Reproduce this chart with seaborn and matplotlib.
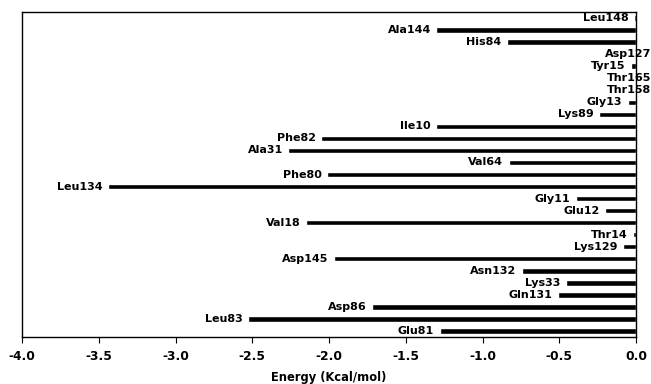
# Per-residue interaction energy, horizontal bars

import numpy as np
import pandas as pd
import matplotlib
matplotlib.use("Agg")
import matplotlib.pyplot as plt
import seaborn as sns

# data (top to bottom)
residues = [
    "Leu148", "Ala144", "His84", "Asp127", "Tyr15", "Thr165", "Thr158",
    "Gly13", "Lys89", "Ile10", "Phe82", "Ala31", "Val64", "Phe80",
    "Leu134", "Gly11", "Glu12", "Val18", "Thr14", "Lys129", "Asp145",
    "Asn132", "Lys33", "Gln131", "Asp86", "Leu83", "Glu81",
]
energy = [
    -0.01, -1.30, -0.84, 0.0, -0.03, 0.0, 0.0,
    -0.055, -0.24, -1.30, -2.05, -2.265, -0.83, -2.01,
    -3.44, -0.39, -0.20, -2.15, -0.02, -0.085, -1.97,
    -0.745, -0.455, -0.51, -1.72, -2.525, -1.28,
]
xticks = [-4.0, -3.5, -3.0, -2.5, -2.0, -1.5, -1.0, -0.5, 0.0]

df = pd.DataFrame({"Residue": residues, "Energy": energy})

sns.set_style("white")
plt.rcParams["font.family"] = ["DejaVu Sans"]
plt.rcParams["text.color"] = "black"
plt.rcParams["axes.labelcolor"] = "black"

fig = plt.figure(figsize=(6.51, 3.84), dpi=100)
ax = fig.add_axes([22 / 651, 1 - 337 / 384, 614 / 651, 325 / 384])

sns.barplot(data=df, x="Energy", y="Residue", orient="h",
            color="black", width=0.45, saturation=1, ax=ax)

# value labels: to the left of each bar end
for i, (name, val) in enumerate(zip(residues, energy)):
    if val == 0:
        ax.annotate(name, (0, i), xytext=(11, 0), textcoords="offset points",
                    ha="right", va="center", fontsize=8, fontweight="bold",
                    color="black", annotation_clip=False)
    else:
        ax.annotate(name, (val, i), xytext=(-4, 0), textcoords="offset points",
                    ha="right", va="center", fontsize=8, fontweight="bold",
                    color="black")

ax.set_xlim(-4.0, 0.0)
ax.set_ylim(len(residues) - 0.5, -0.5)
ax.set_xticks(xticks)
ax.set_xticklabels([f"{t:.1f}" for t in xticks], fontsize=8.8, fontweight="bold")
ax.tick_params(axis="x", direction="out", length=4, width=0.8, bottom=True,
               pad=5, colors="black")
ax.set_yticks([])
ax.set_ylabel("")
ax.set_xlabel("")

# axis title placed in figure pixels
fig.text(329 / 651, 1 - 378 / 384, "Energy (Kcal/mol)", ha="center",
         va="center", fontsize=8.3, fontweight="bold", color="black")

for s in ax.spines.values():
    s.set_visible(True)
    s.set_color("black")
    s.set_linewidth(1.0)

fig.savefig("out.png", dpi=100)
